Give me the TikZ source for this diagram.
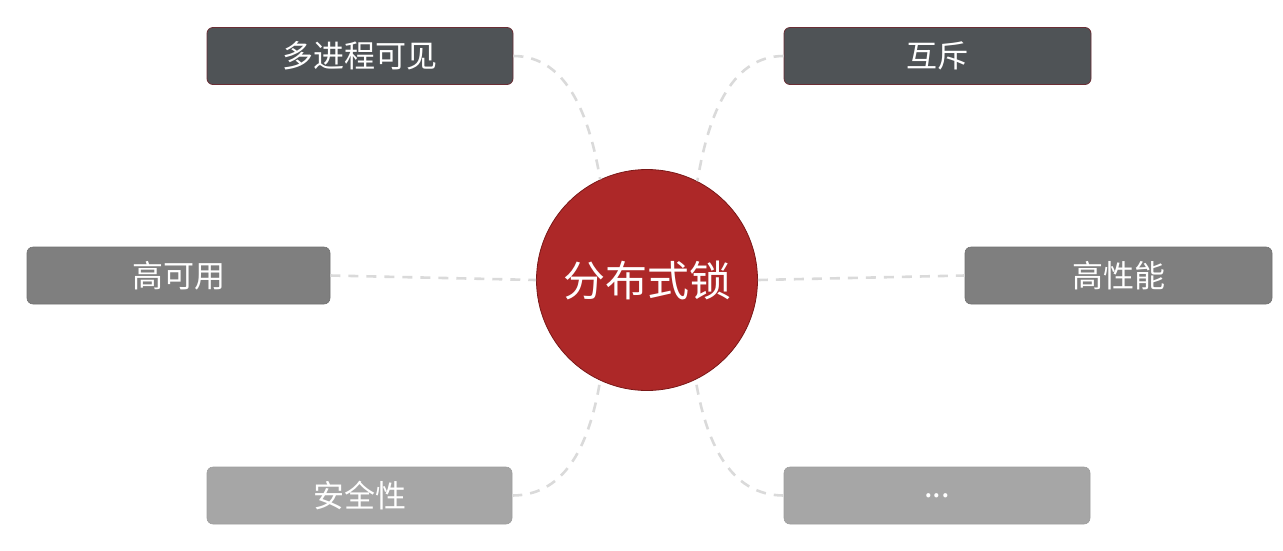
\documentclass[tikz,border=0pt]{standalone}
\usepackage{fontspec}
\newfontfamily\cjk{Noto Sans CJK SC}
\definecolor{darkbox}{HTML}{4F5356}
\definecolor{midbox}{HTML}{7F7F7F}
\definecolor{lightbox}{HTML}{A6A6A6}
\definecolor{boxedge}{HTML}{6B2E35}
\definecolor{hub}{HTML}{AD2828}
\definecolor{hubedge}{HTML}{7A1818}
\definecolor{link}{HTML}{DADADA}
\tikzset{
  item/.style={rounded corners=6pt, inner sep=0pt, minimum height=57pt, text=white, font=\cjk\fontsize{31}{34}\selectfont},
  darkitem/.style={item, fill=darkbox, draw=boxedge, line width=0.8pt},
  miditem/.style={item, fill=midbox, draw=midbox!90!black, line width=0.6pt},
  lightitem/.style={item, fill=lightbox, draw=lightbox!95!black, line width=0.6pt},
  hubnode/.style={circle, fill=hub, draw=hubedge, line width=0.8pt, minimum size=221pt, inner sep=0pt, text=white, font=\cjk\fontsize{42}{48}\selectfont},
  linkline/.style={draw=link, line width=2.6pt, dash pattern=on 10pt off 8pt}
}
\begin{document}
\begin{tikzpicture}[x=1pt,y=-1pt]
\useasboundingbox (0,0) rectangle (1283,550);
\node[hubnode] (O) at (647,280) {分布式锁};
\node[darkitem, minimum width=306pt] (A) at (360,56) {多进程可见};
\node[darkitem, minimum width=307pt] (B) at (937.5,56) {互斥};
\node[miditem, minimum width=303pt] (C) at (178.5,275.5) {高可用};
\node[miditem, minimum width=307pt] (D) at (1118.5,275.5) {高性能};
\node[lightitem, minimum width=305pt] (E) at (359.5,495.5) {安全性};
\node[lightitem, minimum width=306pt] (F) at (937,495.5) {...};
\draw[linkline] (A.east) .. controls +(55,0) and +(-10,-60) .. (O.115);
\draw[linkline] (B.west) .. controls +(-55,0) and +(10,-60) .. (O.63);
\draw[linkline] (C.east) -- (O.west);
\draw[linkline] (O.east) -- (D.west);
\draw[linkline] (E.east) .. controls +(55,0) and +(-10,60) .. (O.245);
\draw[linkline] (F.west) .. controls +(-55,0) and +(10,60) .. (O.296);
\end{tikzpicture}
\end{document}
